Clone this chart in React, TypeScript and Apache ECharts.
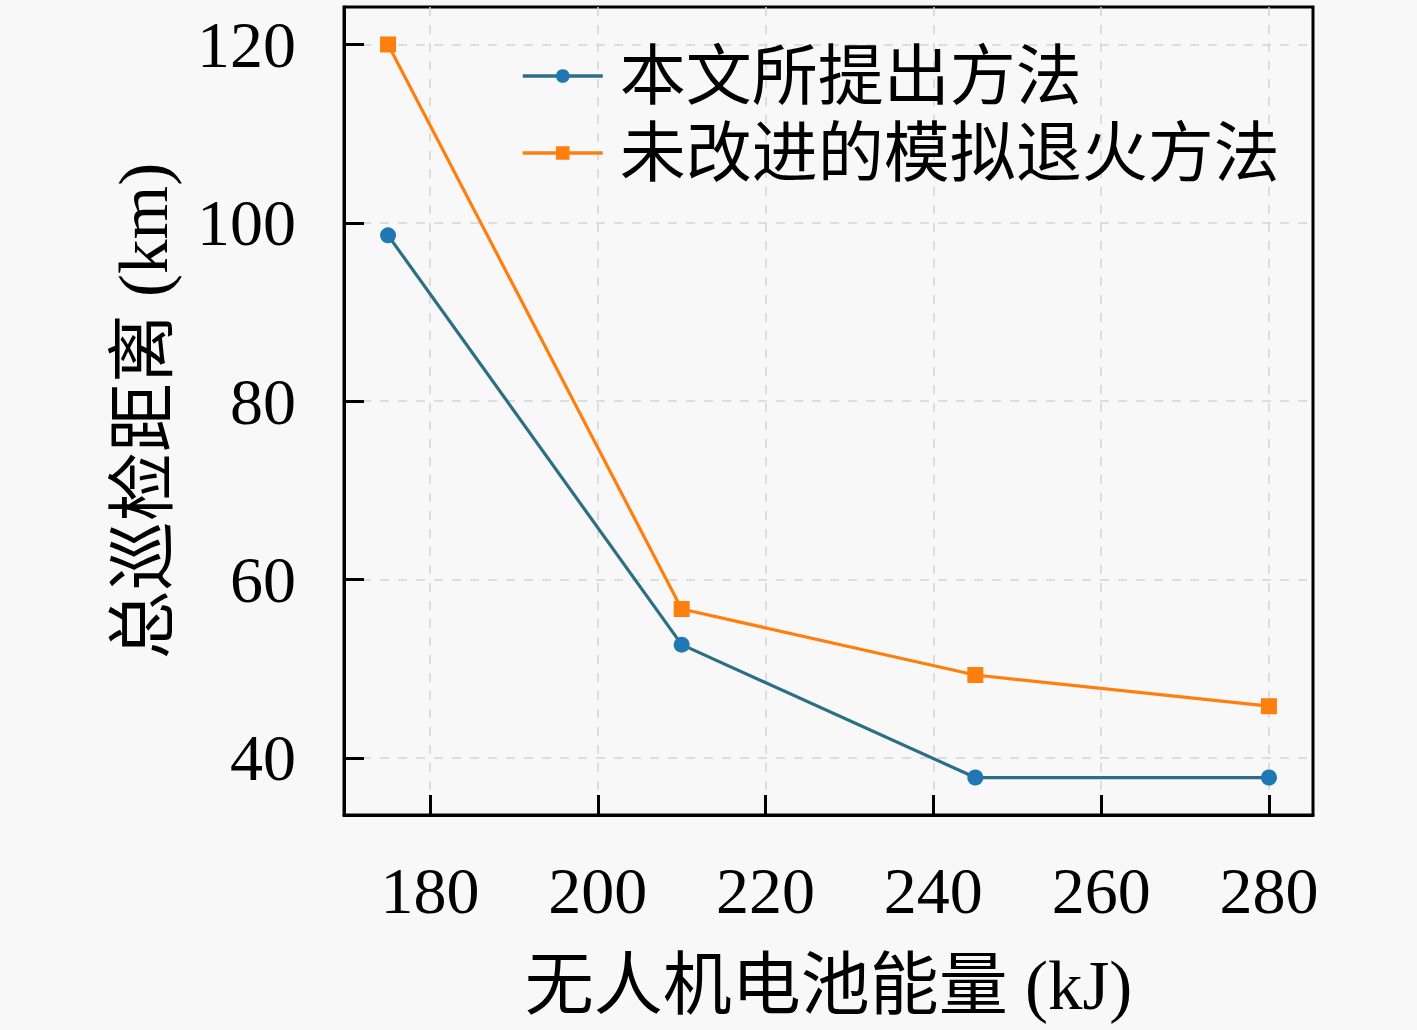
import React, { useEffect, useRef } from "react";
import * as echarts from "echarts";

const energy = [175, 210, 245, 280];
const proposed = [98.6, 52.7, 37.8, 37.8];
const baselineSA = [120.0, 56.7, 49.3, 45.8];
const xTicks = [180, 200, 220, 240, 260, 280];
const yTicks = [40, 60, 80, 100, 120];
const seriesNames = ["本文所提出方法", "未改进的模拟退火方法"];
const xName = "无人机电池能量 (kJ)";
const yName = "总巡检距离 (km)";

const FONT = "'Liberation Serif', 'DejaVu Serif', 'Noto Sans CJK SC', serif";

export default function App() {
  const ref = useRef<HTMLDivElement>(null);
  useEffect(() => {
    document.body.style.margin = "0";
    document.body.style.background = "#f8f8f8";
    const chart = echarts.init(ref.current!, null, { renderer: "svg" });
    const axisCommon = {
      axisLine: { show: true, lineStyle: { color: "#000", width: 3 } },
      axisTick: { show: true, inside: true, length: 20, lineStyle: { color: "#000", width: 3 } },
      splitLine: { show: true, lineStyle: { color: "#d4d4d4", width: 1.5, type: [9, 9] } },
      nameTextStyle: { fontFamily: FONT, fontSize: 69, color: "#000" },
    };
    chart.setOption({
      animation: false,
      backgroundColor: "#f8f8f8",
      grid: {
        left: 344,
        top: 7,
        right: 104,
        bottom: 215,
        show: true,
        borderColor: "#000",
        borderWidth: 3,
        backgroundColor: "transparent",
      },
      legend: {
        orient: "vertical",
        left: 516,
        top: 38,
        itemWidth: 80,
        itemHeight: 17,
        itemGap: 11,
        data: seriesNames,
        lineStyle: { width: 3.5 },
        textStyle: { fontFamily: FONT, fontSize: 66, color: "#000", padding: [0, 0, 0, 12] },
      },
      xAxis: {
        type: "value",
        min: 169.75,
        max: 285.25,
        name: xName,
        nameLocation: "middle",
        nameGap: 136,
        ...axisCommon,
        axisTick: { ...axisCommon.axisTick, customValues: xTicks },
        axisLabel: {
          customValues: xTicks,
          margin: 42,
          fontFamily: FONT,
          fontSize: 66,
          color: "#000",
        },
      },
      yAxis: {
        type: "value",
        min: 33.6,
        max: 124.2,
        name: yName,
        nameLocation: "middle",
        nameGap: 166,
        ...axisCommon,
        axisTick: { ...axisCommon.axisTick, customValues: yTicks },
        axisLabel: {
          customValues: yTicks,
          margin: 48,
          fontFamily: FONT,
          fontSize: 66,
          color: "#000",
        },
      },
      series: [
        {
          name: seriesNames[0],
          type: "line",
          data: energy.map((x, i) => [x, proposed[i]]),
          symbol: "circle",
          symbolSize: 16,
          lineStyle: { color: "#2c6f85", width: 3.2 },
          itemStyle: { color: "#1f77b4" },
          z: 3,
        },
        {
          name: seriesNames[1],
          type: "line",
          data: energy.map((x, i) => [x, baselineSA[i]]),
          symbol: "rect",
          symbolSize: 16,
          lineStyle: { color: "#ff7f0e", width: 3.2 },
          itemStyle: { color: "#ff7f0e" },
          z: 3,
        },
      ],
    });
    return () => chart.dispose();
  }, []);
  return <div ref={ref} style={{ width: 1417, height: 1030 }} />;
}
